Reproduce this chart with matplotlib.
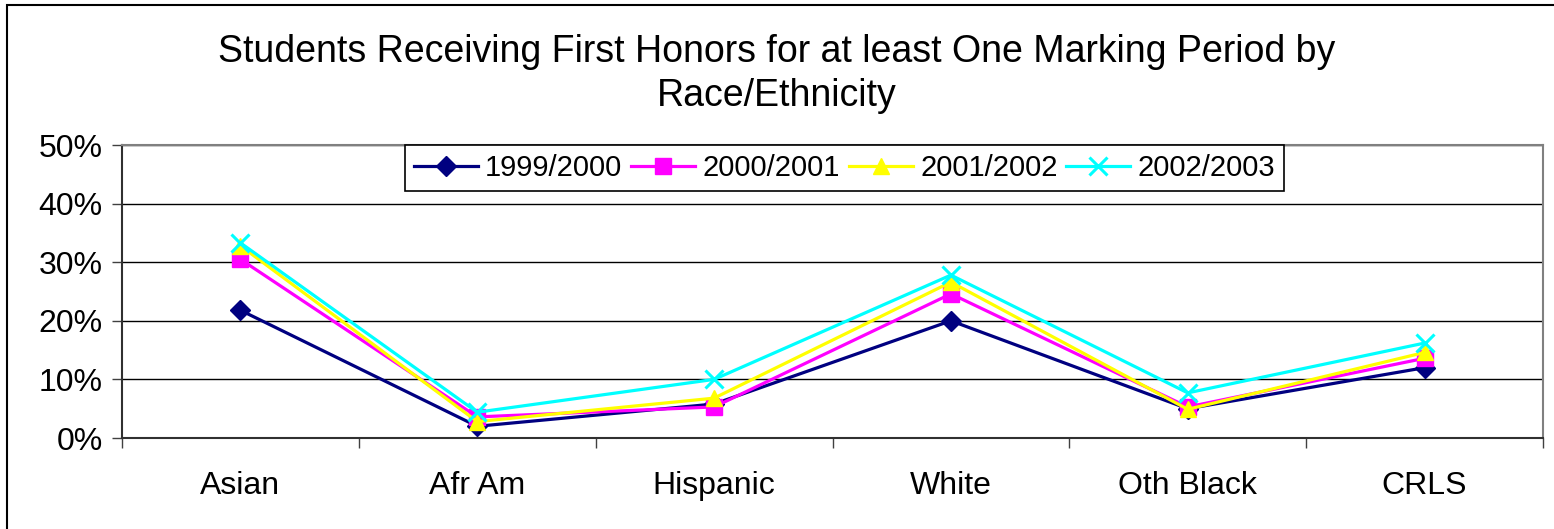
import matplotlib
matplotlib.use("Agg")
import matplotlib.pyplot as plt
from matplotlib.patches import Rectangle
from matplotlib.ticker import FuncFormatter, FixedLocator
import numpy as np

plt.rcParams['font.family'] = ['Liberation Sans', 'DejaVu Sans']

categories = ["Asian", "Afr Am", "Hispanic", "White", "Oth Black", "CRLS"]
series_names = ["1999/2000", "2000/2001", "2001/2002", "2002/2003"]
v1999 = [21.8, 2.0, 5.8, 20.0, 5.0, 12.0]
v2000 = [30.5, 3.6, 5.3, 24.6, 5.3, 13.6]
v2001 = [32.8, 2.8, 6.8, 26.6, 4.9, 14.6]
v2002 = [33.3, 4.4, 10.0, 27.8, 7.7, 16.2]
yticks = [0, 10, 20, 30, 40, 50]
title = "Students Receiving First Honors for at least One Marking Period by\nRace/Ethnicity"

series = [v1999, v2000, v2001, v2002]
colors = ["#000080", "#FF00FF", "#FFFF00", "#00FFFF"]
markers = ["D", "s", "^", "x"]
msizes = [10, 11, 11, 13]

W, H = 1554, 529
fig = plt.figure(figsize=(W / 100, H / 100), dpi=100)
ax = fig.add_axes([122 / W, 1 - 438 / H, (1543 - 122) / W, (438 - 145) / H])

x = np.arange(len(categories)) + 0.5
for vals, name, c, m, ms in zip(series, series_names, colors, markers, msizes):
    kw = dict(markeredgecolor=c, markerfacecolor=c)
    if m == "x":
        kw["markeredgewidth"] = 2.2
    ax.plot(x, vals, color=c, lw=2.3, marker=m, ms=ms, label=name, **kw)

ax.set_xlim(0, len(categories))
ax.set_ylim(0, 50)
ax.yaxis.set_major_locator(FixedLocator(yticks))
ax.yaxis.set_major_formatter(FuncFormatter(lambda v, p: f"{int(v)}%"))
ax.xaxis.set_major_locator(FixedLocator(np.arange(len(categories) + 1)))
ax.xaxis.set_major_formatter(FuncFormatter(lambda v, p: ""))
ax.xaxis.set_minor_locator(FixedLocator(x))
ax.set_xticklabels(categories, minor=True)
ax.tick_params(axis='x', which='minor', length=0, labelsize=23, pad=24)
ax.tick_params(axis='x', which='major', length=7, width=1, color='#404040', direction='out')
ax.tick_params(axis='y', length=7, width=1, color='#404040', direction='out', labelsize=23, pad=7)
ax.grid(axis='y', color='black', lw=1)
ax.set_axisbelow(True)
for s in ['top', 'right']:
    ax.spines[s].set_color('#808080')
    ax.spines[s].set_linewidth(1.5)
for s in ['left', 'bottom']:
    ax.spines[s].set_color('#303030')
    ax.spines[s].set_linewidth(1.5)

leg = ax.legend(loc='upper left', bbox_to_anchor=(0.199, 1.0), ncol=4, fontsize=21,
                frameon=True, fancybox=False, edgecolor='black', framealpha=1,
                handlelength=2.2, handletextpad=0.25, columnspacing=0.3,
                borderpad=0.3, borderaxespad=0)
leg.get_frame().set_linewidth(1.2)

fig.text(777 / W, 1 - 74 / H, title, ha='center', va='center', fontsize=27, linespacing=1.28)

fig.patches.append(Rectangle((7 / W, -0.1), 1.2, 1 - 5 / H + 0.1, transform=fig.transFigure,
                             fill=False, edgecolor='black', lw=1.5))

fig.savefig("out.png", dpi=100)
